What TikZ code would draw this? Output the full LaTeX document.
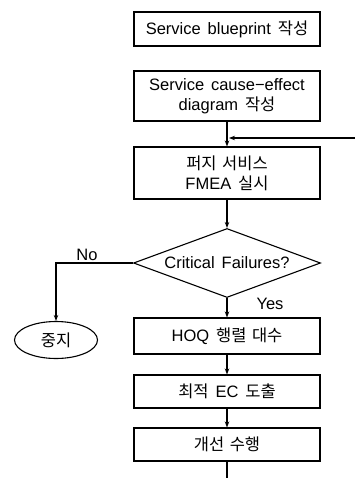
\documentclass[tikz,border=0pt]{standalone}
\usepackage{fontspec}
\setmainfont{Liberation Sans}[WordSpace=1.5]
\newfontfamily\kr{Noto Sans CJK KR}[WordSpace=1.5]
\usetikzlibrary{shapes.geometric,arrows.meta}

\tikzset{
  stepbox/.style={draw, line width=1.1pt, minimum width=186pt, inner sep=0pt, align=center},
  decide/.style={draw, diamond, line width=1.1pt, minimum width=187pt, minimum height=69pt, aspect=2.7, inner sep=0pt},
  stopnode/.style={draw, ellipse, line width=1.1pt, minimum width=83pt, minimum height=37pt, inner sep=0pt},
  flow/.style={line width=1.1pt}
}

\begin{document}
\begin{tikzpicture}[x=1pt,y=-1pt,>={Stealth[length=6pt,width=4.5pt]},font=\fontsize{16.5}{20}\selectfont]
\useasboundingbox (0,0) rectangle (355,478);

\node[stepbox, minimum height=34pt] (blueprint) at (227,29) {Service blueprint {\kr 작성}};
\node[stepbox, minimum height=50pt] (cause) at (227,96) {Service cause−effect\\diagram {\kr 작성}};
\node[stepbox, minimum height=52pt] (fmea) at (227,173) {{\kr 퍼지 서비스}\\FMEA {\kr 실시}};
\node[decide] (crit) at (227,263) {Critical Failures?};
\node[stopnode] (stop) at (56,340) {\kr 중지};
\node[stepbox, minimum height=36pt] (hoq) at (227,336) {HOQ {\kr 행렬 대수}};
\node[stepbox, minimum height=33pt] (opt) at (227,391.5) {{\kr 최적} EC {\kr 도출}};
\node[stepbox, minimum height=33pt] (impr) at (227,444.5) {\kr 개선 수행};

\node (no) at (87,255) {No};
\node (yes) at (270,304) {Yes};

\coordinate (back) at (355,138);
\coordinate (out) at (227,478);

\draw[flow,->] (cause) -- (fmea);
\draw[flow,->] (back) -- ([xshift=2pt]back -| fmea.north);
\draw[flow,->] (fmea) -- (crit);
\draw[flow,->] (crit.west) -| (stop.north);
\draw[flow,->] (crit) -- (hoq);
\draw[flow,->] (hoq) -- (opt);
\draw[flow,->] (opt) -- (impr);
\draw[flow] (impr) -- (out);
\end{tikzpicture}
\end{document}
